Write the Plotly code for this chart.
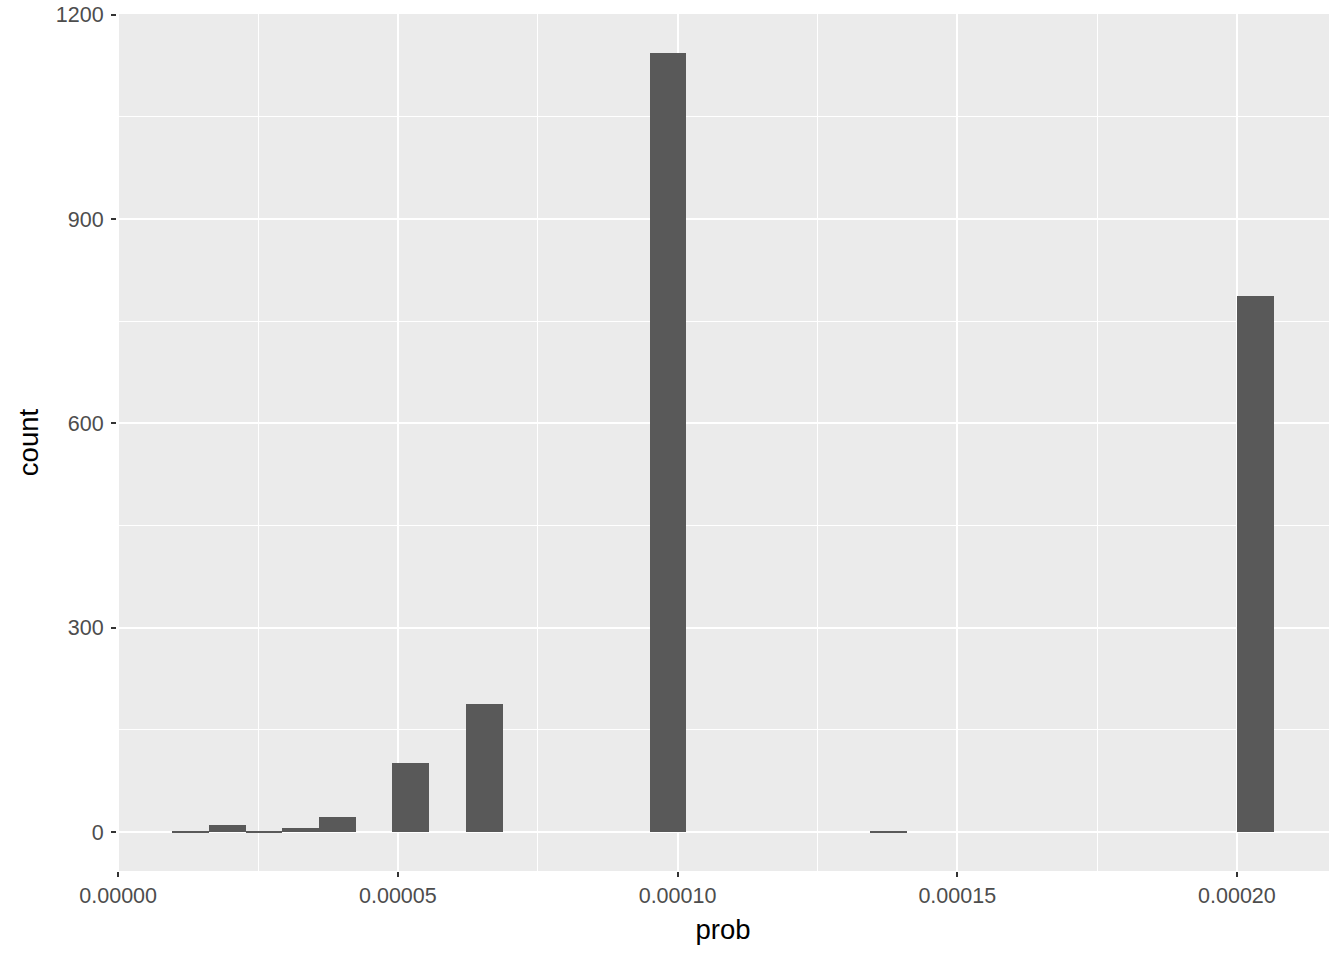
import plotly.graph_objects as go

# Histogram bins (30 bins); only non-empty bins are listed
bin_width = 6.566e-6
bin_centers = [1.292e-5, 1.9486e-5, 2.6052e-5, 3.2618e-5, 3.9184e-5,
               5.2316e-5, 6.5448e-5, 9.8278e-5, 1.37674e-4, 2.03334e-4]
counts = [2, 10, 1, 6, 22, 101, 188, 1144, 2, 787]

x_ticks = [0.0, 0.00005, 0.0001, 0.00015, 0.0002]
x_tick_labels = ["0.00000", "0.00005", "0.00010", "0.00015", "0.00020"]
y_ticks = [0, 300, 600, 900, 1200]

fig = go.Figure()
fig.add_trace(go.Bar(
    x=bin_centers, y=counts, width=[bin_width] * len(bin_centers),
    marker=dict(color="#595959", line=dict(width=0)),
    hoverinfo="x+y",
))

font = "Liberation Sans, Arial, sans-serif"
fig.update_layout(
    width=1344, height=960,
    margin=dict(l=117, r=15, t=14, b=89),
    paper_bgcolor="white", plot_bgcolor="#EBEBEB",
    showlegend=False, bargap=0,
    font=dict(family=font),
    xaxis=dict(
        range=[-2.1e-7, 2.1646e-4],
        tickvals=x_ticks, ticktext=x_tick_labels,
        ticks="outside", ticklen=5, tickwidth=1.5, tickcolor="#333333",
        tickfont=dict(size=21.5, color="#4D4D4D", family=font),
        ticklabeloverflow="allow",
        showgrid=True, gridcolor="white", gridwidth=1.6,
        minor=dict(tickvals=[0.000025, 0.000075, 0.000125, 0.000175],
                   showgrid=True, gridcolor="white", gridwidth=0.8, ticks=""),
        zeroline=False, showline=False,
        title=dict(text="prob", font=dict(size=27.5, color="black", family=font), standoff=12),
        automargin=False,
    ),
    yaxis=dict(
        range=[-57.2, 1201.2],
        tickvals=y_ticks,
        ticks="outside", ticklen=5, tickwidth=1.5, tickcolor="#333333",
        tickfont=dict(size=21.5, color="#4D4D4D", family=font),
        ticklabeloverflow="allow", ticklabelstandoff=3,
        showgrid=True, gridcolor="white", gridwidth=1.6,
        minor=dict(tickvals=[150, 450, 750, 1050],
                   showgrid=True, gridcolor="white", gridwidth=0.8, ticks=""),
        zeroline=False, showline=False,
        title=dict(text="count", font=dict(size=27.5, color="black", family=font), standoff=9),
        automargin=False,
    ),
)

fig.write_html("out.html", config={"displayModeBar": False},
               post_script="document.body.style.margin='0';")
